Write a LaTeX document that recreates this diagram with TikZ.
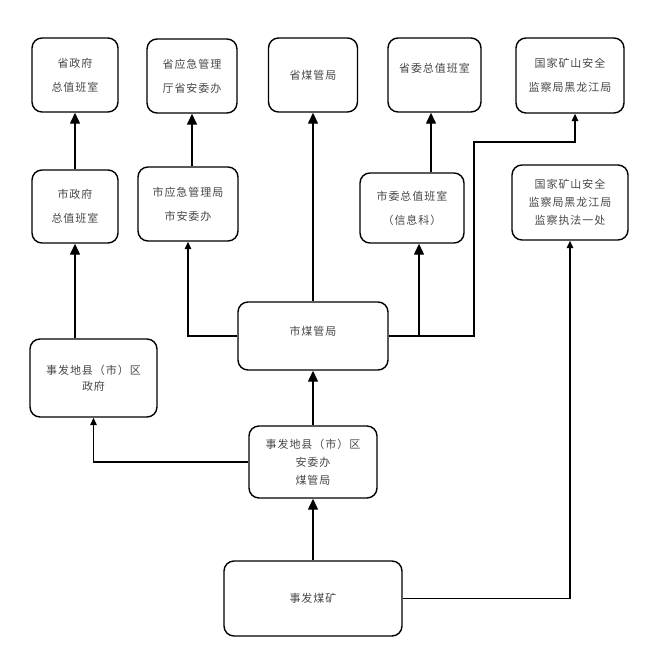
\documentclass[tikz,border=0pt]{standalone}
\usepackage{fontspec}
\newfontfamily\cjk{Noto Sans CJK SC}[LetterSpace=9]
\usetikzlibrary{arrows.meta}
\begin{document}
\begin{tikzpicture}[x=1pt,y=-1pt,
  box/.style={draw, line width=1.4pt, rounded corners=10pt, align=center, inner sep=0pt,
    text=black!72, font=\cjk\fontsize{11}{24}\selectfont},
  lead18/.style={font=\cjk\fontsize{11}{18}\selectfont},
  lead16/.style={font=\cjk\fontsize{11}{16}\selectfont},
  conn/.style={line width=1.4pt},
  thickconn/.style={line width=2pt},
  bigtip/.style={-{Triangle[width=10pt,length=11pt]}},
  smalltip/.style={-{Triangle[width=6.5pt,length=7.5pt]}}]
\useasboundingbox (0,0) rectangle (661,648);
% top row
\node[box, minimum width=86pt, minimum height=74pt] (sz) at (75,75) {省政府\\总值班室};
\node[box, minimum width=90pt, minimum height=74pt] (syj) at (192,76) {省应急管理\\厅省安委办};
\node[box, minimum width=89pt, minimum height=74pt] (smg) at (313,75) {\raisebox{-4pt}{省煤管局}};
\node[box, minimum width=93pt, minimum height=74pt] (sw) at (434.5,75) {\raisebox{14pt}{省委总值班室}};
\node[box, minimum width=108pt, minimum height=75pt] (gj) at (570,75.5) {国家矿山安全\\监察局黑龙江局};
% second row
\node[box, minimum width=86pt, minimum height=73pt] (shz) at (75,206.5) {市政府\\总值班室};
\node[box, minimum width=100pt, minimum height=74pt] (syjj) at (188,204) {市应急管理局\\市安委办};
\node[box, minimum width=104pt, minimum height=70pt] (swz) at (412,208) {市委总值班室\\（信息科）};
\node[box, lead18, minimum width=116pt, minimum height=75pt] (jc) at (570,202.5) {国家矿山安全\\监察局黑龙江局\\监察执法一处};
% lower
\node[box, minimum width=150pt, minimum height=68pt] (smgj) at (313,336) {\raisebox{10pt}{市煤管局}};
\node[box, lead16, minimum width=127pt, minimum height=78pt] (qzf) at (93.5,378) {事发地县（市）区\\政府};
\node[box, lead18, minimum width=128pt, minimum height=72pt] (qaw) at (313,462) {事发地县（市）区\\安委办\\煤管局};
\node[box, minimum width=178pt, minimum height=75pt] (mk) at (313,598.5) {事发煤矿};
% helper coordinates
\coordinate (swx) at (431,0);
\coordinate (rx) at (474,142);
\coordinate (gjx) at (575,0);
\coordinate (j1) at (419,337);
% connectors
\draw[conn,bigtip] (shz.north) -- (sz.south);
\draw[conn,bigtip] (syjj.north -| syj.south) -- (syj.south);
\draw[conn,bigtip] (smgj.north) -- (smg.south);
\draw[conn,bigtip] (swz.north -| swx) -- (sw.south -| swx);
\draw[conn,bigtip] (j1) -- (swz.south -| j1);
\draw[thickconn,smalltip] (smgj.east) -- (smgj.east -| rx) -- (rx) -- (rx -| gjx) -- (gj.south -| gjx);
\draw[conn,smalltip] (smgj.west) -| (syjj.south);
\draw[conn,bigtip] (qaw.north) -- (smgj.south);
\draw[conn,bigtip] (qzf.north -| shz.south) -- (shz.south);
\draw[conn,smalltip] (qaw.west) -| (qzf.south);
\draw[conn,bigtip] (mk.north) -- (qaw.south);
\draw[conn,smalltip] (mk.east) -| (jc.south);
\end{tikzpicture}
\end{document}
